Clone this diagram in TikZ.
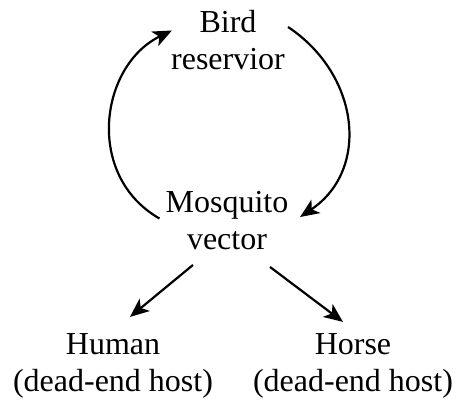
\documentclass[tikz,border=0pt]{standalone}
\usepackage{fontspec}
\setmainfont{Liberation Serif}
\usetikzlibrary{arrows.meta}
\begin{document}
\begin{tikzpicture}[x=1pt,y=-1pt,
  lbl/.style={align=center,inner sep=0pt,font=\fontsize{32}{37}\selectfont},
  arr/.style={line width=2.2pt,-{Stealth[length=19pt,width=16pt,inset=5pt]}}]
\useasboundingbox (0,0) rectangle (461,405);
\node[lbl] (bird) at (228,40.5) {Bird\\reservior};
\node[lbl] (mos) at (227,220.5) {Mosquito\\vector};
\node[lbl] (human) at (113,365.5) {Human\\(dead-end host)};
\node[lbl] (horse) at (353,365.5) {Horse\\(dead-end host)};
\draw[arr] ([shift={(-6,-2)}]mos.west) .. controls +(-75,-43) and +(-72,35) .. ([shift={(1,-10)}]bird.west);
\draw[arr] ([shift={(3,-13.5)}]bird.east) .. controls +(72,48) and +(70,-47) .. ([shift={(11.5,-3.5)}]mos.east);
\draw[arr] ([shift={(-34,15)}]mos.south) -- ([shift={(17,-16)}]human.north);
\draw[arr] ([shift={(43,17)}]mos.south) -- ([shift={(-10,-11)}]horse.north);
\end{tikzpicture}
\end{document}
